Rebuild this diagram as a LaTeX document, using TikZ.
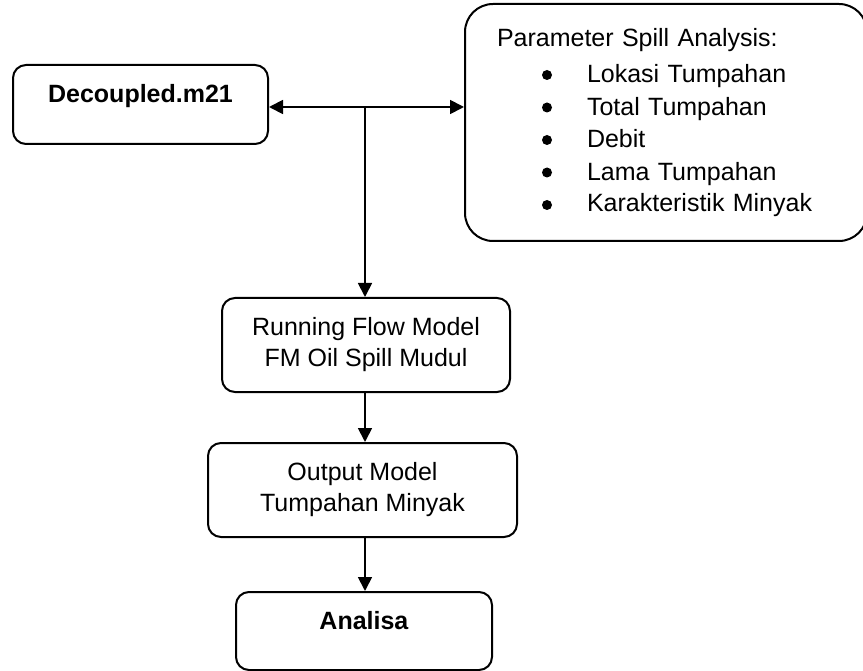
\documentclass[tikz,border=0pt]{standalone}
\usepackage{fontspec}
\setmainfont{Liberation Sans}
\usetikzlibrary{arrows.meta}
\begin{document}
\begin{tikzpicture}[x=1pt,y=-1pt,
  box/.style={draw, line width=2pt, rounded corners=13pt, inner sep=0pt, align=center,
    font=\fontsize{25}{31}\selectfont},
  topbox/.style={box, text height=20pt, text depth=23pt},
  bul/.style={fill=black},
  arr/.style={line width=1.8pt, -{Triangle[length=14pt,width=14pt]}}]
\useasboundingbox (0,0) rectangle (863,671);
\node[topbox, minimum width=255pt, minimum height=79pt] (dec) at (140.5,104.5) {\textbf{Decoupled.m21}};
\node[box, rounded corners=28pt, minimum width=402pt, minimum height=237pt, text width=338pt, align=left] (par) at (666,122.5)
  {Parameter Spill Analysis:\\[3.5pt]
   \fontsize{25}{32.5}\selectfont
   \hspace*{90pt}Lokasi Tumpahan\\
   \hspace*{90pt}Total Tumpahan\\
   \hspace*{90pt}Debit\\
   \hspace*{90pt}Lama Tumpahan\\
   \hspace*{90pt}Karakteristik Minyak};
\foreach \yy in {75,107.5,140,172.5,205}
  \fill[bul] (547,\yy) circle[radius=5pt];
\node[box, minimum width=288pt, minimum height=94pt] (run) at (366,345) {Running Flow Model\\FM Oil Spill Mudul};
\node[box, minimum width=309pt, minimum height=94pt] (out) at (362.5,490) {Output Model\\Tumpahan Minyak};
\node[topbox, minimum width=256pt, minimum height=78pt] (ana) at (364,631) {\textbf{Analisa}};
\coordinate (j) at (365,107);
\draw[arr] (j) -- (dec.east |- j);
\draw[arr] (j) -- (par.west |- j);
\draw[arr] (j) -- (run.north -| j);
\draw[arr] (run.south -| j) -- (out.north -| j);
\draw[arr] (out.south -| j) -- (ana.north -| j);
\end{tikzpicture}
\end{document}
